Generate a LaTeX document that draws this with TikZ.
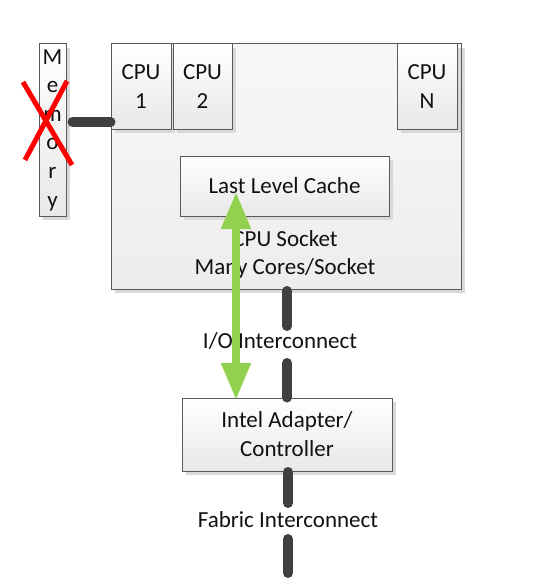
\documentclass[tikz,border=0pt]{standalone}
\usepackage{fontspec}
\setmainfont{Carlito}
\usetikzlibrary{arrows.meta,shadows}
\definecolor{boxline}{HTML}{5A5A5A}
\definecolor{conn}{HTML}{404040}
\definecolor{grn}{HTML}{92D050}
\definecolor{txt}{HTML}{111111}
\tikzset{
  bx/.style={draw=boxline, line width=1pt, top color=white, bottom color=black!9, inner sep=0pt, align=center,
    font=\fontsize{23}{29}\selectfont, text=txt,
    drop shadow={shadow xshift=4pt, shadow yshift=-4pt, fill=black!15, opacity=1}},
  lbl/.style={font=\fontsize{23}{28}\selectfont, text=txt, align=center, inner sep=1pt},
  wire/.style={draw=conn, line width=10pt, line cap=round},
}
\begin{document}
\begin{tikzpicture}[x=1pt,y=-1pt]
\useasboundingbox (0,0) rectangle (544,586);
% socket
\node[bx, minimum width=350pt, minimum height=245pt, top color=black!3, bottom color=black!7] (socket) at (286,166.5) {};
\node[bx, minimum width=60pt, minimum height=85pt] (cpu1) at (141,86.5) {CPU\\1};
\node[bx, minimum width=59pt, minimum height=85pt] (cpu2) at (202.5,86.5) {CPU\\2};
\node[bx, minimum width=60pt, minimum height=85pt] (cpun) at (427,86.5) {CPU\\N};
\node[bx, minimum width=209pt, minimum height=60pt] (llc) at (284.5,186) {Last Level Cache};
\node[lbl] (socklbl) at (285,254) {CPU Socket\\Many Cores/Socket};
% memory
\node[bx, minimum width=27pt, minimum height=172pt, font=\fontsize{23}{28.6}\selectfont] (mem) at (52.5,130) {M\\e\\m\\o\\r\\y};
% adapter
\node[bx, minimum width=210pt, minimum height=73pt] (adapter) at (287,434.5) {Intel Adapter/\\Controller};
% labels
\node[lbl] (io) at (280,341) {I/O Interconnect};
\node[lbl] (fab) at (288,520) {Fabric Interconnect};
\coordinate (fabend) at (288,573);
% wires
\draw[wire] (mem.east |- 0,122) ++(6,0) coordinate (memw) -- (cpu1.west |- memw);
\draw[wire] (287,291) coordinate (s1) -- (s1 |- 0,326) coordinate (s1e);
\draw[wire] (287,363) coordinate (s2) -- (s2 |- adapter.north);
\draw[wire] (288,472) coordinate (s3) -- (288,503) coordinate (s3e);
\draw[wire] (288,539) coordinate (s4) -- (fabend);
% red cross
\coordinate (x1) at (23,82);
\coordinate (x2) at (72,165);
\coordinate (x3) at (67,81);
\coordinate (x4) at (25,160);
\draw[red, line width=5pt] (x1) -- (x2);
\draw[red, line width=5pt] (x3) -- (x4);
% green arrow
\coordinate (gtop) at (236,192);
\coordinate (gbot) at (236,400);
\draw[grn, line width=8pt, {Triangle[width=28pt,length=37pt]}-{Triangle[width=28pt,length=37pt]}] (gtop) -- (gbot);
\end{tikzpicture}
\end{document}
